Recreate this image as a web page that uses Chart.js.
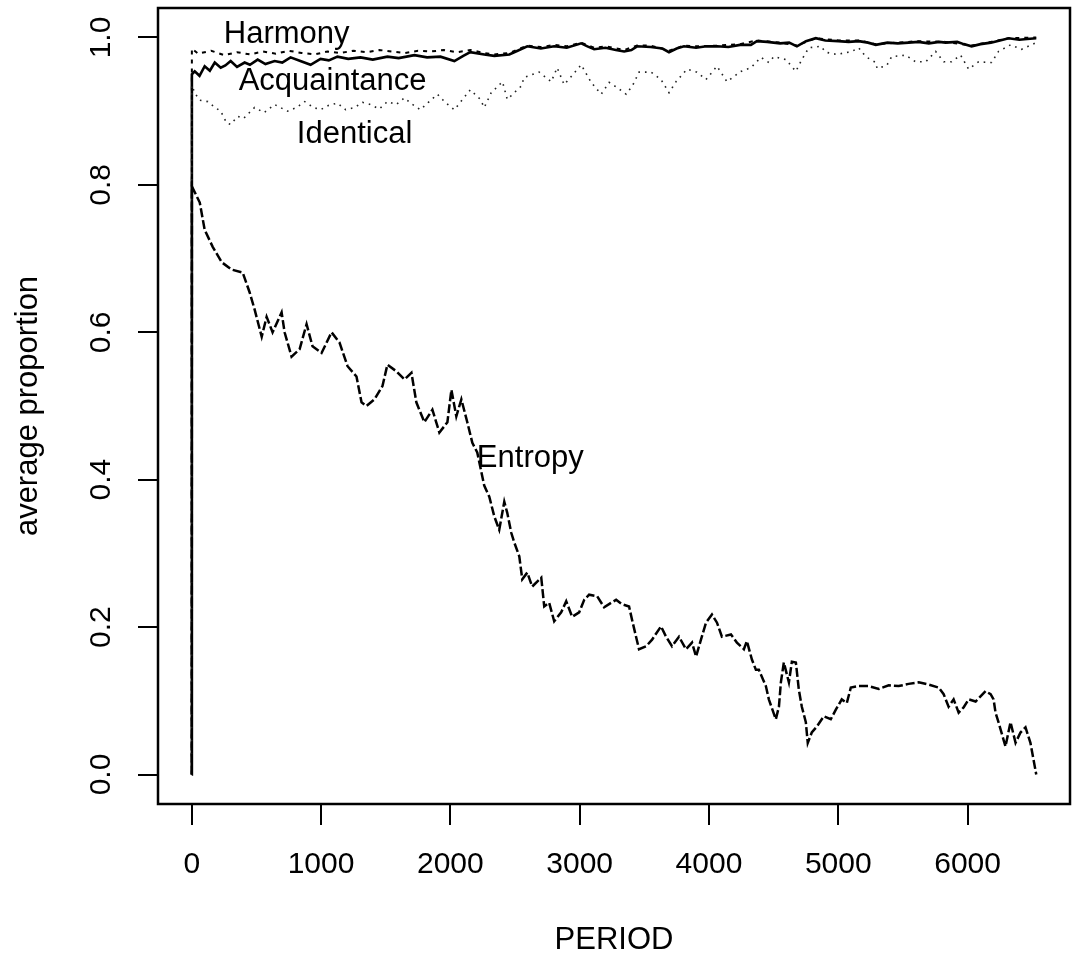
<!DOCTYPE html>
<html>
<head>
<meta charset="utf-8">
<title>average proportion by PERIOD</title>
<script src="https://cdn.jsdelivr.net/npm/chart.js@4.4.1/dist/chart.umd.min.js"></script>
<style>
  html, body { margin: 0; padding: 0; background: #fff; }
  #chart { display: block; }
</style>
</head>
<body>
<canvas id="chart" width="1073" height="962"></canvas>
<script>
// values
const xTicks = [0, 1000, 2000, 3000, 4000, 5000, 6000];
const yTicks = [0, 0.2, 0.4, 0.6, 0.8, 1.0];

const harmonyPeriods = [0, 1, 50, 150, 250, 350, 450, 550, 650, 750, 850, 950, 1050, 1150, 1250, 1350, 1450, 1550, 1650, 1750, 1850, 1950, 2050, 2154, 2262, 2340, 2456, 2595, 2700, 2803, 2900, 3012, 3112, 3200, 3344, 3444, 3550, 3691, 3807, 3900, 4062, 4240, 4371, 4550, 4680, 4826, 5000, 5158, 5290, 5460, 5620, 5830, 6031, 6180, 6317, 6531];
const harmonyValues = [0, 0.985, 0.978, 0.982, 0.976, 0.980, 0.977, 0.981, 0.978, 0.982, 0.979, 0.977, 0.981, 0.979, 0.982, 0.980, 0.983, 0.981, 0.979, 0.982, 0.981, 0.983, 0.980, 0.983, 0.979, 0.977, 0.979, 0.989, 0.987, 0.990, 0.988, 0.993, 0.986, 0.988, 0.983, 0.989, 0.989, 0.982, 0.989, 0.988, 0.989, 0.991, 0.996, 0.993, 0.989, 0.999, 0.996, 0.996, 0.991, 0.993, 0.995, 0.994, 0.989, 0.994, 0.999, 1.000];

const acquaintancePeriods = [0, 1, 23, 60, 100, 140, 178, 224, 260, 301, 350, 409, 450, 510, 570, 641, 700, 764, 840, 919, 996, 1060, 1127, 1210, 1305, 1400, 1513, 1600, 1722, 1820, 1923, 2031, 2100, 2154, 2262, 2340, 2456, 2520, 2595, 2700, 2803, 2900, 3012, 3060, 3112, 3200, 3280, 3344, 3400, 3444, 3550, 3640, 3691, 3750, 3807, 3900, 3980, 4062, 4150, 4240, 4324, 4371, 4450, 4550, 4620, 4680, 4750, 4826, 4900, 5000, 5080, 5158, 5230, 5290, 5380, 5460, 5544, 5620, 5700, 5780, 5830, 5920, 5970, 6031, 6100, 6180, 6250, 6317, 6400, 6460, 6531];
const acquaintanceValues = [0, 0.950, 0.954, 0.948, 0.961, 0.955, 0.966, 0.959, 0.962, 0.968, 0.960, 0.966, 0.963, 0.970, 0.964, 0.968, 0.966, 0.973, 0.968, 0.963, 0.971, 0.969, 0.974, 0.971, 0.973, 0.970, 0.974, 0.972, 0.976, 0.973, 0.974, 0.968, 0.975, 0.980, 0.977, 0.975, 0.977, 0.982, 0.988, 0.985, 0.988, 0.986, 0.992, 0.988, 0.984, 0.986, 0.983, 0.981, 0.983, 0.988, 0.987, 0.985, 0.980, 0.985, 0.988, 0.986, 0.988, 0.988, 0.987, 0.990, 0.990, 0.995, 0.994, 0.992, 0.993, 0.988, 0.995, 0.999, 0.996, 0.995, 0.994, 0.995, 0.993, 0.990, 0.993, 0.992, 0.993, 0.994, 0.992, 0.994, 0.993, 0.994, 0.991, 0.988, 0.991, 0.993, 0.996, 0.999, 0.997, 0.998, 0.999];

const identicalPeriods = [0, 1, 23, 60, 124, 180, 224, 270, 300, 355, 400, 486, 560, 641, 741, 810, 873, 940, 996, 1060, 1127, 1190, 1259, 1320, 1382, 1450, 1513, 1580, 1645, 1700, 1768, 1830, 1900, 1960, 2031, 2090, 2154, 2232, 2262, 2316, 2403, 2440, 2548, 2571, 2687, 2780, 2826, 2880, 2950, 3012, 3089, 3166, 3228, 3290, 3359, 3410, 3459, 3552, 3629, 3691, 3745, 3830, 3907, 3977, 4062, 4139, 4247, 4324, 4402, 4463, 4502, 4595, 4672, 4718, 4772, 4865, 4903, 4988, 5104, 5158, 5212, 5290, 5300, 5375, 5413, 5521, 5598, 5676, 5753, 5815, 5876, 5946, 6008, 6085, 6185, 6239, 6332, 6417, 6494, 6531];
const identicalValues = [0, 0.935, 0.925, 0.915, 0.913, 0.905, 0.900, 0.884, 0.882, 0.893, 0.890, 0.905, 0.898, 0.909, 0.900, 0.905, 0.913, 0.905, 0.902, 0.908, 0.911, 0.902, 0.905, 0.912, 0.909, 0.903, 0.913, 0.909, 0.918, 0.910, 0.902, 0.912, 0.923, 0.912, 0.902, 0.915, 0.929, 0.916, 0.905, 0.925, 0.940, 0.916, 0.934, 0.946, 0.953, 0.940, 0.959, 0.936, 0.950, 0.963, 0.939, 0.923, 0.939, 0.932, 0.923, 0.935, 0.953, 0.953, 0.943, 0.925, 0.940, 0.957, 0.953, 0.943, 0.961, 0.940, 0.954, 0.959, 0.973, 0.966, 0.974, 0.970, 0.954, 0.970, 0.986, 0.988, 0.980, 0.977, 0.981, 0.986, 0.974, 0.966, 0.958, 0.962, 0.974, 0.976, 0.967, 0.967, 0.981, 0.967, 0.967, 0.976, 0.957, 0.967, 0.966, 0.981, 0.990, 0.984, 0.990, 0.993];

const entropyPeriods = [0, 1, 62, 100, 162, 232, 309, 394, 448, 486, 541, 579, 625, 695, 718, 772, 834, 888, 934, 1004, 1081, 1143, 1205, 1274, 1313, 1351, 1413, 1475, 1513, 1583, 1645, 1699, 1737, 1799, 1861, 1915, 1977, 2008, 2046, 2085, 2131, 2170, 2208, 2262, 2301, 2340, 2378, 2417, 2440, 2471, 2494, 2533, 2556, 2595, 2633, 2703, 2726, 2764, 2803, 2857, 2896, 2942, 2996, 3035, 3073, 3135, 3189, 3243, 3282, 3328, 3382, 3405, 3436, 3459, 3514, 3560, 3629, 3668, 3714, 3768, 3822, 3869, 3900, 3938, 3977, 4023, 4062, 4100, 4170, 4216, 4270, 4293, 4332, 4363, 4386, 4440, 4463, 4517, 4541, 4556, 4579, 4618, 4641, 4672, 4695, 4718, 4749, 4764, 4795, 4834, 4888, 4942, 4981, 5027, 5066, 5097, 5158, 5236, 5313, 5390, 5467, 5544, 5622, 5699, 5776, 5815, 5853, 5892, 5931, 5969, 6008, 6062, 6100, 6139, 6178, 6201, 6216, 6239, 6293, 6332, 6371, 6409, 6448, 6486, 6510, 6531];
const entropyValues = [0, 0.798, 0.776, 0.739, 0.716, 0.695, 0.685, 0.681, 0.654, 0.631, 0.594, 0.621, 0.600, 0.627, 0.600, 0.567, 0.577, 0.611, 0.581, 0.572, 0.600, 0.586, 0.554, 0.540, 0.505, 0.500, 0.509, 0.527, 0.556, 0.547, 0.536, 0.545, 0.505, 0.478, 0.495, 0.464, 0.478, 0.522, 0.486, 0.509, 0.478, 0.450, 0.437, 0.392, 0.377, 0.350, 0.332, 0.370, 0.355, 0.328, 0.315, 0.296, 0.265, 0.274, 0.255, 0.267, 0.228, 0.233, 0.208, 0.220, 0.235, 0.214, 0.220, 0.237, 0.244, 0.242, 0.227, 0.233, 0.237, 0.231, 0.228, 0.210, 0.187, 0.170, 0.174, 0.183, 0.201, 0.187, 0.174, 0.187, 0.170, 0.179, 0.160, 0.183, 0.206, 0.217, 0.206, 0.187, 0.190, 0.179, 0.170, 0.181, 0.156, 0.142, 0.142, 0.120, 0.102, 0.075, 0.092, 0.125, 0.152, 0.125, 0.153, 0.152, 0.115, 0.092, 0.071, 0.043, 0.057, 0.065, 0.079, 0.075, 0.088, 0.102, 0.097, 0.118, 0.120, 0.120, 0.116, 0.121, 0.120, 0.123, 0.125, 0.122, 0.118, 0.109, 0.092, 0.102, 0.084, 0.091, 0.102, 0.099, 0.106, 0.113, 0.109, 0.102, 0.084, 0.071, 0.038, 0.071, 0.043, 0.057, 0.064, 0.043, 0.020, 0.0];

// text labels placed in data coordinates
const labelTexts = ["Harmony", "Acquaintance", "Identical", "Entropy"];
const labelPeriods = [734, 1089, 1259, 2618];
const labelValues = [1.004, 0.940, 0.868, 0.429];

const FONT = '"Liberation Sans", Arial, Helvetica, sans-serif';

function points(xs, ys) { return xs.map((x, i) => ({ x: x, y: ys[i] })); }

const rDecor = {
    id: 'rDecor',
    afterDraw(chart) {
        const { ctx, chartArea: a, scales } = chart;
        ctx.save();
        ctx.strokeStyle = '#000';
        ctx.lineWidth = 2.5;
        ctx.strokeRect(a.left, a.top, a.right - a.left, a.bottom - a.top);

        ctx.fillStyle = '#000';
        ctx.font = '30px ' + FONT;
        ctx.textAlign = 'center';
        ctx.textBaseline = 'alphabetic';
        yTicks.forEach(v => {
            ctx.save();
            ctx.translate(110, scales.y.getPixelForValue(v));
            ctx.rotate(-Math.PI / 2);
            ctx.fillText(v.toFixed(1), 0, 0);
            ctx.restore();
        });

        ctx.font = '31px ' + FONT;
        ctx.textBaseline = 'middle';
        labelTexts.forEach((t, i) => {
            ctx.fillText(t, scales.x.getPixelForValue(labelPeriods[i]), scales.y.getPixelForValue(labelValues[i]));
        });
        ctx.restore();
    }
};

new Chart(document.getElementById('chart'), {
    type: 'line',
    data: {
        datasets: [
            { label: 'Entropy', data: points(entropyPeriods, entropyValues), borderColor: '#000', borderWidth: 2.5, borderDash: [9, 3] },
            { label: 'Identical', data: points(identicalPeriods, identicalValues), borderColor: '#222', borderWidth: 1.6, borderDash: [1.6, 5] },
            { label: 'Acquaintance', data: points(acquaintancePeriods, acquaintanceValues), borderColor: '#000', borderWidth: 2.6 },
            { label: 'Harmony', data: points(harmonyPeriods, harmonyValues), borderColor: '#000', borderWidth: 2, borderDash: [4, 5] },
        ],
    },
    options: {
        responsive: false,
        animation: false,
        devicePixelRatio: 1,
        layout: { padding: { top: 8, right: 3, left: 0, bottom: 0 } },
        elements: { point: { radius: 0, hoverRadius: 0 }, line: { tension: 0 } },
        plugins: { legend: { display: false }, tooltip: { enabled: false } },
        scales: {
            x: {
                type: 'linear',
                min: -261,
                max: 6792,
                afterBuildTicks: s => { s.ticks = xTicks.map(v => ({ value: v })); },
                afterFit: s => { s.height = 158; },
                border: { display: false },
                grid: { drawOnChartArea: false, drawTicks: true, tickLength: 21, color: '#000', lineWidth: 2 },
                ticks: { padding: 22, color: '#000', font: { family: FONT, size: 30 }, maxRotation: 0, autoSkip: false, callback: v => String(v) },
                title: { display: true, text: 'PERIOD', color: '#000', font: { family: FONT, size: 31 }, padding: { top: 0, bottom: 3 } },
            },
            y: {
                type: 'linear',
                min: -0.04,
                max: 1.04,
                afterBuildTicks: s => { s.ticks = yTicks.map(v => ({ value: v })); },
                afterFit: s => { s.width = 158; },
                border: { display: false },
                grid: { drawOnChartArea: false, drawTicks: true, tickLength: 20, color: '#000', lineWidth: 2 },
                ticks: { display: false },
                title: { display: true, text: 'average proportion', color: '#000', font: { family: FONT, size: 31 }, padding: { top: 10, bottom: 0 } },
            },
        },
    },
    plugins: [rDecor],
});
</script>
</body>
</html>
